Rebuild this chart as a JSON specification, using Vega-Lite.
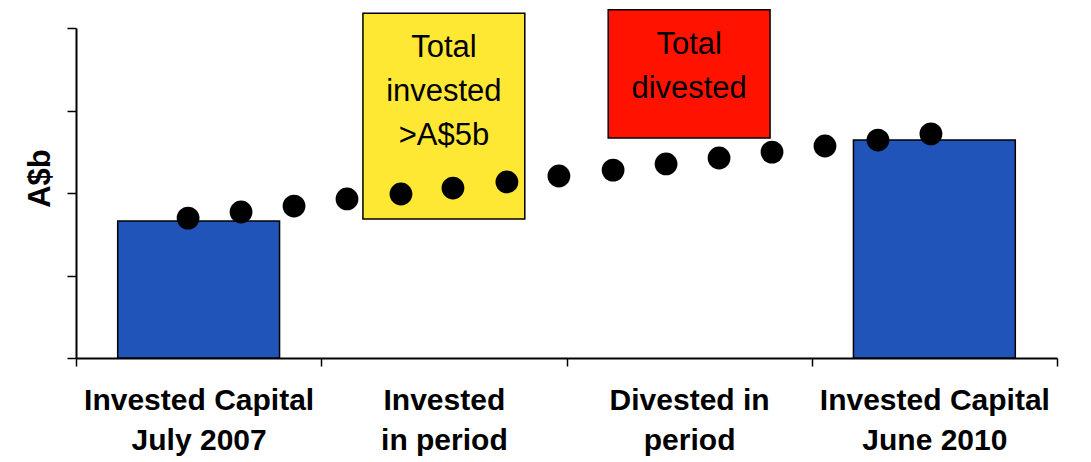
{
  "$schema": "https://vega.github.io/schema/vega-lite/v6.json",
  "width": 981,
  "height": 330,
  "autosize": {"type": "none"},
  "padding": {"left": 76, "top": 28, "right": 34, "bottom": 104},
  "background": "white",
  "config": {
    "view": {"stroke": null},
    "font": "Liberation Sans, Arial, sans-serif"
  },
  "layer": [
    {
      "data": {
        "values": [
          {"cat": "Invested Capital\nJuly 2007", "kind": "capital", "lo": 0, "hi": 8.3},
          {"cat": "Invested\nin period", "kind": "invested", "lo": 8.42, "hi": 20.9, "note": "Total\ninvested\n>A$5b"},
          {"cat": "Divested in\nperiod", "kind": "divested", "lo": 13.33, "hi": 21.1, "note": "Total\ndivested"},
          {"cat": "Invested Capital\nJune 2010", "kind": "capital", "lo": 0, "hi": 13.21}
        ]
      },
      "encoding": {
        "x": {
          "field": "cat",
          "type": "nominal",
          "sort": null,
          "scale": {"paddingInner": 0, "paddingOuter": 0},
          "axis": {
            "title": null,
            "labelExpr": "split(datum.label, '\\n')",
            "labelFont": "Liberation Sans, Arial, sans-serif",
            "labelFontSize": 30,
            "labelFontWeight": "bold",
            "labelColor": "black",
            "labelLineHeight": 40,
            "labelPadding": 19,
            "labelAngle": 0,
            "labelLimit": 0,
            "labelOverlap": false,
            "tickBand": "extent",
            "tickSize": 8,
            "tickColor": "black",
            "tickWidth": 1.5,
            "domainColor": "black",
            "domainWidth": 2
          }
        }
      },
      "layer": [
        {
          "mark": {"type": "bar", "width": {"band": 0.66}, "stroke": "black", "strokeWidth": 1.5},
          "encoding": {
            "y": {
              "field": "lo",
              "type": "quantitative",
              "scale": {"domain": [0, 20], "nice": false},
              "axis": {
                "title": "A$b",
                "labels": false,
                "grid": false,
                "values": [0, 5, 10, 15, 20],
                "tickSize": 9,
                "tickColor": "black",
                "tickWidth": 1.5,
                "domainColor": "black",
                "domainWidth": 2,
                "titleFont": "Liberation Sans, Arial, sans-serif",
                "titleFontSize": 31,
                "titleFontWeight": "bold",
                "titleColor": "black",
                "titleBaseline": "alphabetic",
                "titlePadding": 17,
                "titleY": 150
              }
            },
            "y2": {"field": "hi"},
            "color": {
              "field": "kind",
              "type": "nominal",
              "scale": {"domain": ["capital", "invested", "divested"], "range": ["#2154B8", "#FFE834", "#FF1300"]},
              "legend": null
            }
          }
        },
        {
          "transform": [{"filter": "datum.note"}],
          "mark": {"type": "text", "baseline": "alphabetic", "dy": 44, "lineBreak": "\n", "fontSize": 31, "lineHeight": 44, "color": "black", "font": "Liberation Sans, Arial, sans-serif"},
          "encoding": {
            "y": {"field": "hi", "type": "quantitative"},
            "text": {"field": "note"}
          }
        }
      ]
    },
    {
      "data": {
        "values": [
          {"t": 0.457, "v": 8.48},
          {"t": 0.673, "v": 8.85},
          {"t": 0.889, "v": 9.21},
          {"t": 1.105, "v": 9.64},
          {"t": 1.325, "v": 9.94},
          {"t": 1.537, "v": 10.30},
          {"t": 1.757, "v": 10.67},
          {"t": 1.969, "v": 11.03},
          {"t": 2.190, "v": 11.39},
          {"t": 2.406, "v": 11.76},
          {"t": 2.622, "v": 12.12},
          {"t": 2.838, "v": 12.48},
          {"t": 3.054, "v": 12.85},
          {"t": 3.270, "v": 13.21},
          {"t": 3.486, "v": 13.58}
        ]
      },
      "mark": {"type": "circle", "size": 520, "color": "black", "opacity": 1},
      "encoding": {
        "x": {"field": "t", "type": "quantitative", "scale": {"domain": [0, 4], "nice": false, "zero": false}, "axis": null},
        "y": {"field": "v", "type": "quantitative", "scale": {"domain": [0, 20], "nice": false}}
      }
    }
  ],
  "resolve": {"scale": {"x": "independent"}}
}
